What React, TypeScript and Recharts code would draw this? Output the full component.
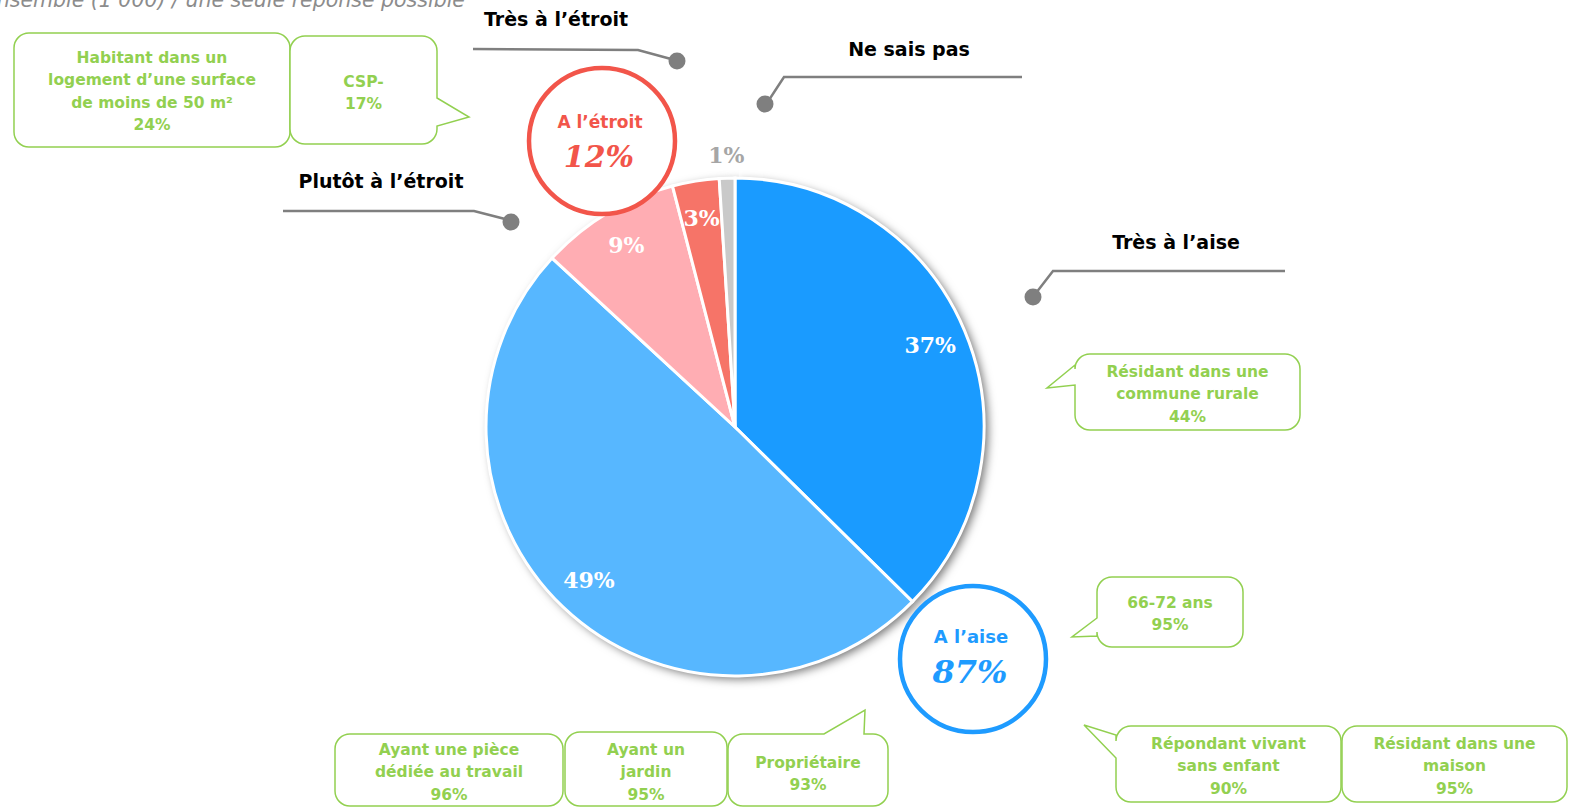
import React from 'react';
import {Cell, Pie, PieChart} from 'recharts';

document.body.style.margin = '0';

// survey answers, clockwise from 12 o'clock
const categories = ['Très à l’aise', 'Plutôt à l’aise', 'Plutôt à l’étroit', 'Très à l’étroit', 'Ne sais pas'];
const shares = [37, 49, 9, 3, 1];

// grouped totals (rounded in the source, so not simply summed)
const groupLabels = ['A l’aise', 'A l’étroit'];
const groupTotals = [87, 12];

// profile call-outs
const profileLines = [
  ['Habitant dans un', 'logement d’une surface', 'de moins de 50 m²'],
  ['CSP-'],
  ['Résidant dans une', 'commune rurale'],
  ['66-72 ans'],
  ['Ayant une pièce', 'dédiée au travail'],
  ['Ayant un', 'jardin'],
  ['Propriétaire'],
  ['Répondant vivant', 'sans enfant'],
  ['Résidant dans une', 'maison'],
];
const profileValues = [24, 17, 44, 95, 96, 95, 93, 90, 95];

const subtitle = 'Ensemble (1 000) / une seule réponse possible';

const W = 1574;
const H = 807;
const sliceColors = ['#1a9bff', '#57b7ff', '#ffadb3', '#f67468', '#c9c9c9'];
const GREEN = '#92d050';
const RED = '#f2554a';
const BLUE = '#1e9bff';
const SANS = '"DejaVu Sans", Verdana, sans-serif';
const SERIF = '"DejaVu Serif", Georgia, serif';

type Pt = [number, number];
type Tail = {side: 'left' | 'right' | 'top'; a: number; b: number; tip: Pt};

const calloutLayout: Record<number, {tx: number; ty: number; path: Pt[]; dot: Pt}> = {
  0: {tx: 1176, ty: 249, path: [[1285, 271], [1053, 271], [1036, 293]], dot: [1033, 297]},
  2: {tx: 381, ty: 188, path: [[283, 211], [474, 211], [505, 219]], dot: [511, 222]},
  3: {tx: 556, ty: 26, path: [[473, 49], [638, 50], [671, 59]], dot: [677, 61]},
  4: {tx: 909, ty: 56, path: [[1022, 77], [784, 77], [769, 100]], dot: [765, 104]},
};

const boxLayout: {x: number; y: number; w: number; h: number; base: number; tail?: Tail}[] = [
  {x: 14, y: 33, w: 276, h: 114, base: 63},
  {x: 290, y: 36, w: 147, h: 108, base: 87, tail: {side: 'right', a: 98, b: 126, tip: [469, 117]}},
  {x: 1075, y: 354, w: 225, h: 76, base: 377, tail: {side: 'left', a: 365, b: 385, tip: [1047, 388]}},
  {x: 1097, y: 577, w: 146, h: 70, base: 608, tail: {side: 'left', a: 618, b: 636, tip: [1072, 637]}},
  {x: 335, y: 734, w: 228, h: 72, base: 755},
  {x: 565, y: 732, w: 162, h: 74, base: 755},
  {x: 728, y: 734, w: 160, h: 72, base: 768, tail: {side: 'top', a: 824, b: 864, tip: [865, 710]}},
  {x: 1116, y: 726, w: 225, h: 76, base: 749, tail: {side: 'left', a: 735, b: 758, tip: [1084, 725]}},
  {x: 1342, y: 726, w: 225, h: 76, base: 749},
];

const circleLayout = [
  {cx: 973, cy: 659, labelY: 643, valueY: 683, labelSize: 18, valueSize: 32, color: BLUE},
  {cx: 602, cy: 141, labelY: 128, valueY: 167, labelSize: 17, valueSize: 30, color: RED},
];

function bubblePath(x: number, y: number, w: number, h: number, r: number, tail?: Tail) {
  const R = x + w;
  const B = y + h;
  let d = `M${x + r},${y}`;
  if (tail?.side === 'top') d += ` L${tail.a},${y} L${tail.tip[0]},${tail.tip[1]} L${tail.b},${y}`;
  d += ` L${R - r},${y} A${r},${r} 0 0 1 ${R},${y + r}`;
  if (tail?.side === 'right') d += ` L${R},${tail.a} L${tail.tip[0]},${tail.tip[1]} L${R},${tail.b}`;
  d += ` L${R},${B - r} A${r},${r} 0 0 1 ${R - r},${B}`;
  d += ` L${x + r},${B} A${r},${r} 0 0 1 ${x},${B - r}`;
  if (tail?.side === 'left') d += ` L${x},${tail.b} L${tail.tip[0]},${tail.tip[1]} L${x},${tail.a}`;
  d += ` L${x},${y + r} A${r},${r} 0 0 1 ${x + r},${y} Z`;
  return d;
}

const pieData = categories.map((name, i) => ({name, value: shares[i]}));

const renderSliceLabel = (p: any) => {
  const last = p.index === shares.length - 1;
  const r = last ? p.outerRadius + 23 : p.outerRadius * 0.85;
  const a = (-p.midAngle * Math.PI) / 180;
  return (
    <text
      x={p.cx + r * Math.cos(a)}
      y={p.cy + r * Math.sin(a)}
      dominantBaseline="central"
      fill={last ? '#a6a6a6' : '#fff'}
      fontFamily={SERIF}
      fontSize={22}
      fontWeight={700}
      textAnchor="middle"
    >
      {`${p.value}%`}
    </text>
  );
};

export default function App() {
  return (
    <div style={{position: 'relative', width: W, height: H, background: '#fff', overflow: 'hidden'}}>
      <PieChart height={H} margin={{top: 0, right: 0, bottom: 0, left: 0}} width={W}>
        <defs>
          <filter height="140%" id="pieShadow" width="140%" x="-20%" y="-20%">
            <feDropShadow dx="4" dy="3" floodColor="#000" floodOpacity="0.55" stdDeviation="5" />
          </filter>
        </defs>
        <Pie cx={735} cy={427} data={pieData} dataKey="value" endAngle={-270} fill="#fff" isAnimationActive={false} outerRadius={249} startAngle={90} stroke="none">
          {pieData.map(d => (
            <Cell fill="#fff" filter="url(#pieShadow)" key={`s-${d.name}`} />
          ))}
        </Pie>
        <Pie cx={735} cy={427} data={pieData} dataKey="value" endAngle={-270} isAnimationActive={false} label={renderSliceLabel} labelLine={false} outerRadius={249} startAngle={90} stroke="#fff" strokeWidth={3}>
          {pieData.map((d, i) => (
            <Cell fill={sliceColors[i]} key={d.name} />
          ))}
        </Pie>
      </PieChart>

      <svg height={H} style={{position: 'absolute', left: 0, top: 0, pointerEvents: 'none'}} width={W}>
        <text fill="#8c8c8c" fontFamily={SANS} fontSize={20.5} fontStyle="italic" textAnchor="end" x={465} y={7}>
          {subtitle}
        </text>

        {Object.entries(calloutLayout).map(([k, c]) => (
          <g key={k}>
            <text fill="#000" fontFamily={SANS} fontSize={19} fontWeight={700} textAnchor="middle" x={c.tx} y={c.ty}>
              {categories[Number(k)]}
            </text>
            <polyline fill="none" points={[...c.path, c.dot].map(p => p.join(',')).join(' ')} stroke="#7f7f7f" strokeWidth={2.5} />
            <circle cx={c.dot[0]} cy={c.dot[1]} fill="#7f7f7f" r={8.5} />
          </g>
        ))}

        {circleLayout.map((c, i) => (
          <g key={groupLabels[i]}>
            <circle cx={c.cx} cy={c.cy} fill="#fff" r={73} stroke={c.color} strokeWidth={4.5} />
            <text fill={c.color} fontFamily={SANS} fontSize={c.labelSize} fontWeight={700} textAnchor="middle" x={c.cx - 2} y={c.labelY}>
              {groupLabels[i]}
            </text>
            <text fill={c.color} fontFamily={SERIF} fontSize={c.valueSize} fontStyle="italic" fontWeight={700} textAnchor="middle" x={c.cx - 3} y={c.valueY}>
              {`${groupTotals[i]}%`}
            </text>
          </g>
        ))}

        {boxLayout.map((b, i) => {
          const lines = [...profileLines[i], `${profileValues[i]}%`];
          return (
            <g key={`box-${i}`}>
              <path d={bubblePath(b.x, b.y, b.w, b.h, 15, b.tail)} fill="#fff" stroke={GREEN} strokeWidth={1.5} />
              <text fill={GREEN} fontFamily={SANS} fontSize={15.5} fontWeight={700} textAnchor="middle">
                {lines.map((l, j) => (
                  <tspan key={j} x={b.x + b.w / 2} y={b.base + j * 22.3}>
                    {l}
                  </tspan>
                ))}
              </text>
            </g>
          );
        })}
      </svg>
    </div>
  );
}
